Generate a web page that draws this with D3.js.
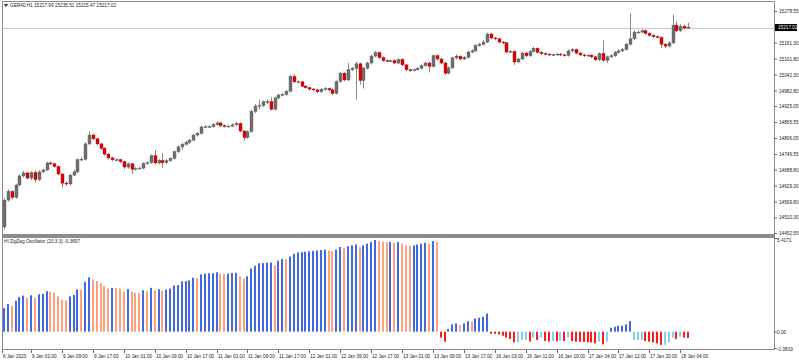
<!DOCTYPE html>
<html>
<head>
<meta charset="utf-8">
<script src="https://cdn.jsdelivr.net/npm/d3@7"></script>
<style>
  body { margin: 0; background: #fff; }
  svg text { font-family: "Liberation Sans", Arial, sans-serif; font-size: 4.7px; fill: #222; }
</style>
</head>
<body>
<script>
// H1 candles, GER40
var opens = [14475,14575,14607,14585,14631,14665,14676,14657,14677,14651,
  14680,14687,14713,14710,14700,14672,14638,14635,14668,14680,
  14725,14727,14784,14817,14803,14784,14768,14746,14732,14725,
  14725,14718,14698,14710,14690,14692,14694,14712,14714,14740,
  14713,14722,14714,14722,14730,14755,14773,14783,14790,14798,
  14817,14823,14847,14848,14848,14856,14862,14852,14849,14850,
  14855,14860,14832,14808,14830,14905,14925,14927,14941,14941,
  14913,14955,14966,14968,14980,15035,15015,15015,14999,14993,
  14988,14985,14978,14987,14990,14985,14972,15016,15047,15022,
  15060,15065,15082,15020,15066,15085,15111,15124,15105,15094,
  15093,15094,15085,15098,15078,15060,15057,15060,15065,15075,
  15085,15072,15112,15100,15085,15047,15067,15104,15110,15100,
  15106,15126,15130,15150,15155,15163,15193,15178,15175,15163,
  15160,15126,15128,15089,15100,15122,15112,15128,15140,15125,
  15120,15118,15115,15116,15118,15115,15113,15130,15135,15122,
  15115,15112,15114,15108,15097,15120,15095,15108,15112,15125,
  15130,15135,15155,15175,15200,15200,15205,15195,15188,15183,
  15180,15155,15148,15160,15226,15205,15222,15217.99];
var highs = [14582,14615,14612,14636,14670,14684,14680,14682,14685,14685,
  14692,14718,14720,14714,14704,14676,14645,14672,14688,14730,
  14735,14790,14830,14822,14806,14788,14772,14750,14736,14730,
  14729,14722,14715,14713,14698,14699,14716,14720,14745,14761,
  14727,14750,14727,14735,14760,14778,14788,14796,14803,14822,
  14828,14852,14853,14853,14861,14868,14866,14856,14855,14860,
  14866,14864,14836,14835,14912,14932,14948,14946,14950,14958,
  14960,14971,14974,14985,15040,15045,15020,15019,15003,14997,
  14992,14989,14992,14995,14994,14990,15021,15052,15051,15085,
  15070,15090,15086,15071,15090,15116,15130,15128,15109,15099,
  15099,15098,15103,15102,15082,15064,15065,15070,15080,15090,
  15089,15117,15116,15104,15089,15072,15109,15118,15114,15111,
  15131,15136,15155,15161,15170,15198,15197,15182,15179,15167,
  15164,15134,15132,15105,15127,15126,15133,15146,15144,15129,
  15124,15122,15120,15122,15122,15119,15135,15141,15139,15126,
  15119,15118,15118,15112,15125,15170,15113,15117,15130,15136,
  15141,15160,15270,15206,15206,15210,15209,15199,15192,15187,
  15184,15160,15166,15265,15240,15230,15228,15235.51];
var lows = [14465,14570,14578,14580,14627,14660,14652,14650,14640,14646,
  14676,14683,14705,14696,14668,14622,14628,14630,14664,14676,
  14720,14722,14780,14798,14778,14762,14740,14726,14720,14720,
  14712,14690,14692,14672,14685,14688,14690,14707,14710,14708,
  14708,14696,14709,14717,14726,14750,14762,14778,14784,14794,
  14812,14819,14843,14843,14844,14851,14847,14845,14845,14846,
  14851,14827,14796,14803,14826,14898,14912,14922,14932,14908,
  14909,14950,14961,14963,14976,15010,15010,14995,14989,14983,
  14980,14973,14974,14982,14980,14965,14968,15012,15017,15018,
  15055,14948,15005,14990,15061,15080,15106,15100,15090,15088,
  15089,15080,15081,15073,15055,15052,15053,15056,15061,15071,
  15050,15068,15095,15080,15040,15043,15063,15099,15095,15096,
  15102,15121,15126,15146,15150,15159,15173,15170,15158,15155,
  15121,15122,15078,15084,15096,15107,15108,15124,15120,15115,
  15113,15110,15111,15112,15111,15108,15109,15126,15117,15110,
  15107,15108,15103,15092,15092,15090,15085,15103,15108,15120,
  15126,15131,15150,15171,15195,15196,15190,15183,15178,15176,
  15140,15140,15143,15155,15200,15200,15210,15215.47];
var closes = [14575,14607,14585,14631,14665,14676,14657,14677,14651,14680,
  14687,14713,14710,14700,14672,14638,14635,14668,14680,14725,
  14727,14784,14817,14803,14784,14768,14746,14732,14725,14725,
  14718,14698,14710,14690,14692,14694,14712,14714,14740,14713,
  14722,14714,14722,14730,14755,14773,14783,14790,14798,14817,
  14823,14847,14848,14848,14856,14862,14852,14849,14850,14855,
  14860,14832,14808,14830,14905,14925,14927,14941,14941,14913,
  14955,14966,14968,14980,15035,15015,15015,14999,14993,14988,
  14985,14978,14987,14990,14985,14972,15016,15047,15022,15060,
  15065,15082,15020,15066,15085,15111,15124,15105,15094,15093,
  15094,15085,15098,15078,15060,15057,15060,15065,15075,15085,
  15072,15112,15100,15085,15047,15067,15104,15110,15100,15106,
  15126,15130,15150,15155,15163,15193,15178,15175,15163,15160,
  15126,15128,15089,15100,15122,15112,15128,15140,15125,15120,
  15118,15115,15116,15118,15115,15113,15130,15135,15122,15115,
  15112,15114,15108,15097,15120,15095,15108,15112,15125,15130,
  15135,15155,15175,15200,15200,15205,15195,15188,15183,15180,
  15155,15148,15160,15226,15205,15222,15215,15217.02];

// Oscillator buffer and its direction (1 = up, 0 = down)
var oscValues = [1.39,1.63,1.52,1.83,2.05,2.13,1.99,2.15,1.99,2.21,
  2.23,2.39,2.35,2.29,2.09,1.89,1.85,2.09,2.17,2.49,
  2.48,2.95,3.21,3.09,2.99,2.87,2.69,2.55,2.59,2.58,
  2.55,2.37,2.51,2.35,2.29,2.28,2.45,2.39,2.59,2.45,
  2.51,2.41,2.49,2.55,2.73,2.75,2.97,2.99,3.03,3.19,
  3.15,3.39,3.43,3.45,3.46,3.51,3.43,3.41,3.43,3.47,
  3.48,3.27,3.13,3.27,3.73,3.90,4.04,4.05,4.08,4.09,
  3.92,4.20,4.30,4.28,4.44,4.60,4.68,4.70,4.72,4.75,
  4.78,4.80,4.82,4.85,4.80,4.75,4.85,5.00,4.95,5.05,
  5.10,5.15,5.00,5.10,5.20,5.30,5.4171,5.35,5.30,5.28,
  5.30,5.25,5.30,5.20,5.10,5.08,5.10,5.15,5.20,5.25,
  5.20,5.35,5.30,-0.35,-0.59,0.16,0.43,0.49,0.39,0.49,
  0.62,0.59,0.78,0.82,0.88,1.08,-0.12,-0.13,-0.16,-0.24,
  -0.35,-0.43,-0.63,-0.62,-0.49,-0.48,-0.59,-0.35,-0.49,-0.35,
  -0.55,-0.59,-0.55,-0.57,-0.53,-0.56,-0.35,-0.55,-0.59,-0.60,
  -0.61,-0.62,-0.64,-0.69,-0.59,-0.75,-0.59,0.23,0.29,0.35,
  0.36,0.43,0.63,-0.49,-0.49,-0.49,-0.55,-0.59,-0.63,-0.69,
  -0.78,-0.78,-0.63,-0.35,-0.43,-0.29,-0.35,-0.3697];
var oscDir = [1,1,0,1,1,1,0,1,0,1,
  1,1,0,0,0,0,0,1,1,1,
  0,1,1,0,0,0,0,0,1,0,
  0,0,1,0,0,0,1,0,1,0,
  1,0,1,1,1,1,1,1,1,1,
  0,1,1,1,1,1,0,0,1,1,
  1,0,0,1,1,1,1,1,1,1,
  0,1,1,0,1,1,1,1,1,1,
  1,1,1,1,0,0,1,1,0,1,
  1,1,0,1,1,1,1,0,0,0,
  1,0,1,0,0,0,1,1,1,1,
  0,1,0,0,0,1,1,1,0,1,
  1,0,1,1,1,1,0,0,0,0,
  0,0,0,1,1,1,0,1,0,1,
  0,0,1,0,1,0,1,0,0,0,
  0,0,0,0,1,0,1,1,1,1,
  1,1,1,1,1,1,0,0,0,0,
  0,1,1,1,0,1,0,0];

var priceTicks = [15278.55,15161.30,15101.80,15042.30,14982.80,14925.05,14865.55,
  14806.05,14746.55,14688.80,14629.30,14569.80,14510.30,14452.55];
var priceRange = [14452.55, 15278.55];
var lastPrice = 15217.02;
var oscRange = [-1.0819, 5.4171];
var timeLabels = ["6 Jan 2023","9 Jan 01:00","9 Jan 09:00","9 Jan 17:00","10 Jan 01:00",
  "10 Jan 09:00","10 Jan 17:00","11 Jan 01:00","11 Jan 09:00","11 Jan 17:00",
  "12 Jan 01:00","12 Jan 09:00","12 Jan 17:00","13 Jan 01:00","13 Jan 09:00",
  "13 Jan 17:00","16 Jan 03:00","16 Jan 11:00","16 Jan 19:00","17 Jan 04:00",
  "17 Jan 12:00","17 Jan 20:00","18 Jan 04:00"];
var timeLabelBars = [0,7,15,23,31,39,47,55,63,71,79,87,95,103,111,119,127,135,143,151,159,167,175];

var width = 799, height = 363;
var pane = {left: 2, right: 774, top: 1, mainBottom: 234, oscTop: 237, oscBottom: 349};

var svg = d3.select("body").append("svg")
    .attr("width", width)
    .attr("height", height);
svg.append("rect").attr("width", width).attr("height", height).attr("fill", "#fff");

var n = closes.length;
var xScale = d3.scaleLinear().domain([0, n - 1]).range([4, 688]);
var yScale = d3.scaleLinear().domain(priceRange).range([233, 11]);
var oScale = d3.scaleLinear().domain(oscRange).range([350, 240]);

// frames
var frame = svg.append("g").attr("fill", "none").attr("stroke", "#8c8c8c");
frame.append("rect").attr("x", pane.left + 0.5).attr("y", pane.top + 0.5)
    .attr("width", pane.right - pane.left).attr("height", pane.mainBottom - pane.top);
frame.append("rect").attr("x", pane.left + 0.5).attr("y", pane.oscTop + 0.5)
    .attr("width", pane.right - pane.left).attr("height", pane.oscBottom - pane.oscTop);
svg.append("rect").attr("x", pane.left).attr("y", pane.mainBottom)
    .attr("width", pane.right - pane.left + 1).attr("height", 3).attr("fill", "#8c8c8c");

// current price line
svg.append("line")
    .attr("x1", pane.left + 1).attr("x2", pane.right)
    .attr("y1", Math.round(yScale(lastPrice)) + 0.5).attr("y2", Math.round(yScale(lastPrice)) + 0.5)
    .attr("stroke", "#c3cad3");

// candles
var candles = svg.append("g");
d3.range(n).forEach(function(i) {
    var cx = Math.round(xScale(i)) + 0.5;
    var up = closes[i] >= opens[i];
    candles.append("line")
        .attr("x1", cx).attr("x2", cx)
        .attr("y1", yScale(highs[i])).attr("y2", yScale(lows[i]))
        .attr("stroke", "#8a8a8a");
    var top = yScale(Math.max(opens[i], closes[i])),
        bot = yScale(Math.min(opens[i], closes[i]));
    candles.append("rect")
        .attr("x", cx - 1.5).attr("width", 3)
        .attr("y", top).attr("height", Math.max(0.8, bot - top))
        .attr("fill", up ? "#6e6e6e" : "#e00000")
        .attr("stroke", up ? "#5a5a5a" : "#b00000").attr("stroke-width", 0.4);
});

// price axis
var yAxis = svg.append("g")
    .attr("transform", "translate(" + pane.right + ",0)")
    .call(d3.axisRight(yScale).tickValues(priceTicks).tickSize(3).tickPadding(2)
        .tickFormat(d3.format(".2f")));
yAxis.select(".domain").remove();
yAxis.selectAll("line").attr("stroke", "#666");
yAxis.selectAll("text").style("font-size", "4.7px").attr("fill", "#222");

var ly = yScale(lastPrice);
svg.append("rect").attr("x", 775).attr("y", ly - 3.5).attr("width", 22).attr("height", 7).attr("fill", "#000");
svg.append("text").attr("x", 778).attr("y", ly + 1.7).style("fill", "#fff")
    .text(d3.format(".2f")(lastPrice));

// oscillator bars
var zero = oScale(0);
var osc = svg.append("g");
oscValues.forEach(function(v, i) {
    var c = v >= 0 ? (oscDir[i] ? "#4169e1" : "#ffa07a") : (oscDir[i] ? "#87ceeb" : "#ff1a1a");
    var y = oScale(v);
    osc.append("rect")
        .attr("x", Math.round(xScale(i)) - 1).attr("width", 2)
        .attr("y", Math.min(y, zero)).attr("height", Math.abs(zero - y))
        .attr("fill", c);
});

// oscillator scale labels
svg.append("text").attr("x", 777).attr("y", 242).text(oscRange[1].toFixed(4));
svg.append("text").attr("x", 777).attr("y", zero + 2).text("0.00");
svg.append("text").attr("x", 777).attr("y", 351).text(oscRange[0].toFixed(4));
[oscRange[1], 0, oscRange[0]].forEach(function(v) {
    var yy = v === 0 ? zero : (v > 0 ? 238 : 348);
    svg.append("line").attr("x1", pane.right).attr("x2", pane.right + 3)
        .attr("y1", yy + 0.5).attr("y2", yy + 0.5).attr("stroke", "#666");
});

// time axis
var tAxis = svg.append("g");
timeLabels.forEach(function(t, k) {
    var tx = k === 0 ? pane.left : Math.round(xScale(timeLabelBars[k]));
    tAxis.append("line").attr("x1", tx + 0.5).attr("x2", tx + 0.5)
        .attr("y1", pane.oscBottom + 1).attr("y2", pane.oscBottom + 4).attr("stroke", "#666");
    tAxis.append("text").attr("x", tx + 1).attr("y", 357.5).text(t);
});

// titles
svg.append("path").attr("d", "M4,4 L8,4 L6,7 Z").attr("fill", "#222");
svg.append("text").attr("x", 10).attr("y", 7)
    .text("GER40,H1 15217.99 15235.51 15215.47 15217.02");
svg.append("text").attr("x", 4).attr("y", 242.5)
    .text("HI ZigZag Oscillator (20,3,3) -0.3697");
</script>
</body>
</html>
